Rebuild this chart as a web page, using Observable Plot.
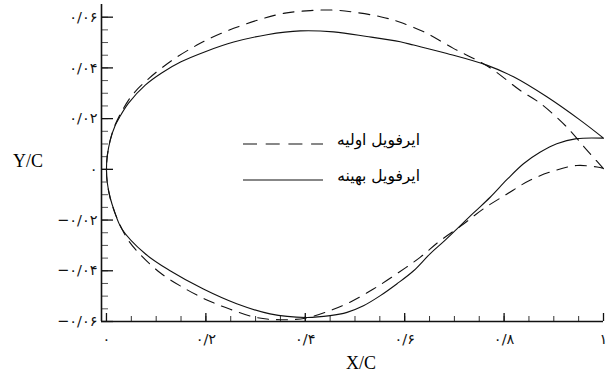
<!DOCTYPE html>
<html>
<head>
<meta charset="utf-8">
<script src="https://cdn.jsdelivr.net/npm/d3@7"></script>
<script src="https://cdn.jsdelivr.net/npm/@observablehq/plot@0.6"></script>
<style>
  html, body { margin: 0; padding: 0; background: #fff; }
  #wrap { position: relative; width: 608px; height: 376px; overflow: hidden; }
  #wrap svg.plot { position: absolute; left: 0; top: 0; }
  .ttl { position: absolute; font-family: "Liberation Serif", "Times New Roman", serif; font-size: 18px; color: #000; line-height: 1; white-space: nowrap; }
  .leg { position: absolute; font-family: "DejaVu Sans", sans-serif; font-size: 15.5px; color: #000; direction: rtl; white-space: nowrap; line-height: 1; }
  .sample { position: absolute; }
</style>
</head>
<body>
<div id="wrap"></div>
<script>
// ---- series names ----
const seriesNames = ["ایرفویل اولیه", "ایرفویل بهینه"];

// ---- initial airfoil (dashed) ----
const initUpperX = [0, 0.0015, 0.0075, 0.0175, 0.034, 0.054, 0.0845, 0.132, 0.182, 0.209, 0.256, 0.309, 0.356, 0.41, 0.457, 0.504, 0.551, 0.591, 0.645, 0.698, 0.745, 0.779, 0.832, 0.873, 0.926, 0.967, 1.0];
const initUpperY = [0, 0.0051, 0.0115, 0.0176, 0.0240, 0.0298, 0.0357, 0.0430, 0.0490, 0.0517, 0.0556, 0.0591, 0.0615, 0.0626, 0.0628, 0.0618, 0.0602, 0.058, 0.0536, 0.0477, 0.0431, 0.0391, 0.0312, 0.026, 0.0167, 0.0075, 0.0003];
const initLowerX = [0, 0.0015, 0.0075, 0.016, 0.028, 0.044, 0.068, 0.108, 0.155, 0.202, 0.249, 0.303, 0.35, 0.40, 0.45, 0.49, 0.537, 0.584, 0.631, 0.671, 0.712, 0.759, 0.806, 0.853, 0.9, 0.946, 0.987, 1.0];
const initLowerY = [0, -0.0051, -0.0114, -0.0167, -0.0222, -0.028, -0.0336, -0.0408, -0.0467, -0.0515, -0.0552, -0.0585, -0.0593, -0.0587, -0.0557, -0.0524, -0.0472, -0.0412, -0.0347, -0.0282, -0.0225, -0.0155, -0.0097, -0.0042, -0.0006, 0.0015, 0.0009, 0.0003];

// ---- optimized airfoil (solid) ----
const optUpperX = [0, 0.0015, 0.0075, 0.0177, 0.0256, 0.044, 0.078, 0.111, 0.15, 0.2, 0.256, 0.323, 0.39, 0.457, 0.524, 0.591, 0.618, 0.685, 0.765, 0.819, 0.886, 0.953, 1.0];
const optUpperY = [0, 0.0051, 0.0114, 0.0174, 0.0203, 0.026, 0.0332, 0.0380, 0.0424, 0.0465, 0.0502, 0.0531, 0.0546, 0.0542, 0.0524, 0.0503, 0.049, 0.0457, 0.0411, 0.0365, 0.0286, 0.0194, 0.0123];
const optLowerX = [0, 0.0015, 0.0075, 0.016, 0.031, 0.078, 0.128, 0.195, 0.262, 0.329, 0.401, 0.45, 0.484, 0.517, 0.551, 0.584, 0.618, 0.651, 0.681, 0.738, 0.772, 0.806, 0.839, 0.873, 0.906, 0.946, 1.0];
const optLowerY = [0, -0.0051, -0.0112, -0.0165, -0.0235, -0.0333, -0.040, -0.0472, -0.053, -0.057, -0.0584, -0.0577, -0.0564, -0.0538, -0.0498, -0.0452, -0.040, -0.0333, -0.028, -0.0173, -0.011, -0.004, 0.0022, 0.0068, 0.0101, 0.0121, 0.0123];

// ---- axes ----
const xDomain = [-0.01, 1];
const yDomain = [-0.06, 0.065];
const xTicks = [0, 0.2, 0.4, 0.6, 0.8, 1];
const xTickLabels = ["۰", "۰/۲", "۰/۴", "۰/۶", "۰/۸", "۱"];
const yTicks = [-0.06, -0.04, -0.02, 0, 0.02, 0.04, 0.06];
const yTickLabels = ["−۰/۰۶", "−۰/۰۴", "−۰/۰۲", "۰", "۰/۰۲", "۰/۰۴", "۰/۰۶"];
const xMinorStep = 0.05;
const yMinorStep = 0.005;
const xTitle = "X/C";
const yTitle = "Y/C";

// build closed contour: TE -> upper -> LE -> lower -> TE
function contour(ux, uy, lx, ly, name) {
  const pts = [];
  for (let i = ux.length - 1; i >= 0; i--) pts.push({x: ux[i], y: uy[i], s: name});
  for (let i = 1; i < lx.length; i++) pts.push({x: lx[i], y: ly[i], s: name});
  return pts;
}
const initPts = contour(initUpperX, initUpperY, initLowerX, initLowerY, seriesNames[0]);
const optPts = contour(optUpperX, optUpperY, optLowerX, optLowerY, seriesNames[1]);

const xMinor = d3.range(0, 1 + 1e-9, xMinorStep);
const yMinor = d3.range(-0.06, 0.06 + 1e-9, yMinorStep);
const xLab = new Map(xTicks.map((t, i) => [t, xTickLabels[i]]));
const yLab = new Map(yTicks.map((t, i) => [t, yTickLabels[i]]));

const ink = "#111";
const plot = Plot.plot({
  width: 608,
  height: 376,
  marginLeft: 101,
  marginRight: 5,
  marginTop: 4,
  marginBottom: 55,
  style: {background: "transparent", color: ink, overflow: "visible"},
  x: {domain: xDomain},
  y: {domain: yDomain},
  marks: [
    // minor ticks
    Plot.axisY(yMinor, {anchor: "left", tickSize: -7, fill: "none", stroke: "#555", strokeWidth: 1, label: null}),
    Plot.axisX(xMinor, {anchor: "bottom", tickSize: -5, fill: "none", stroke: "#333", strokeWidth: 1, label: null}),
    // major ticks
    Plot.axisY(yTicks, {anchor: "left", tickSize: -12, fill: "none", stroke: ink, strokeWidth: 1.3, label: null}),
    Plot.axisX(xTicks, {anchor: "bottom", tickSize: -8, fill: "none", stroke: ink, strokeWidth: 1.3, label: null}),
    // tick labels
    Plot.axisY(yTicks, {anchor: "left", tickSize: 0, tickPadding: 4, tickFormat: d => yLab.get(d), fontSize: 14.5, fontFamily: "DejaVu Sans", label: null}),
    Plot.axisX(xTicks, {anchor: "bottom", tickSize: 0, tickPadding: 12, tickFormat: d => xLab.get(d), fontSize: 14.5, fontFamily: "DejaVu Sans", label: null}),
    // axis lines
    Plot.ruleX([xDomain[0]], {stroke: ink, strokeWidth: 1.6}),
    Plot.ruleY([yDomain[0]], {stroke: ink, strokeWidth: 1.6}),
    // airfoils
    Plot.line(initPts, {x: "x", y: "y", curve: "catmull-rom", stroke: ink, strokeWidth: 1.1, strokeDasharray: "11,8"}),
    Plot.line(optPts, {x: "x", y: "y", curve: "catmull-rom", stroke: ink, strokeWidth: 1.1})
  ]
});
plot.classList.add("plot");
const wrap = document.getElementById("wrap");
wrap.appendChild(plot);

// axis titles
const yt = document.createElement("div");
yt.className = "ttl"; yt.textContent = yTitle;
yt.style.left = "13px"; yt.style.top = "152px";
wrap.appendChild(yt);
const xt = document.createElement("div");
xt.className = "ttl"; xt.textContent = xTitle;
xt.style.left = "346px"; xt.style.top = "354px";
wrap.appendChild(xt);

// legend
const legRows = [
  {name: seriesNames[0], dash: "14,8.7", y: 144},
  {name: seriesNames[1], dash: null, y: 180}
];
legRows.forEach(r => {
  const ns = "http://www.w3.org/2000/svg";
  const s = document.createElementNS(ns, "svg");
  s.setAttribute("width", 82); s.setAttribute("height", 4);
  s.setAttribute("class", "sample");
  s.style.left = "242px"; s.style.top = (r.y - 2) + "px";
  const l = document.createElementNS(ns, "line");
  l.setAttribute("x1", 1); l.setAttribute("x2", 81); l.setAttribute("y1", 2); l.setAttribute("y2", 2);
  l.setAttribute("stroke", ink); l.setAttribute("stroke-width", 1.1);
  if (r.dash) l.setAttribute("stroke-dasharray", r.dash);
  s.appendChild(l);
  wrap.appendChild(s);
  const t = document.createElement("div");
  t.className = "leg"; t.textContent = r.name;
  t.style.right = (608 - 420) + "px"; t.style.top = (r.y - 11) + "px";
  wrap.appendChild(t);
});
</script>
</body>
</html>
